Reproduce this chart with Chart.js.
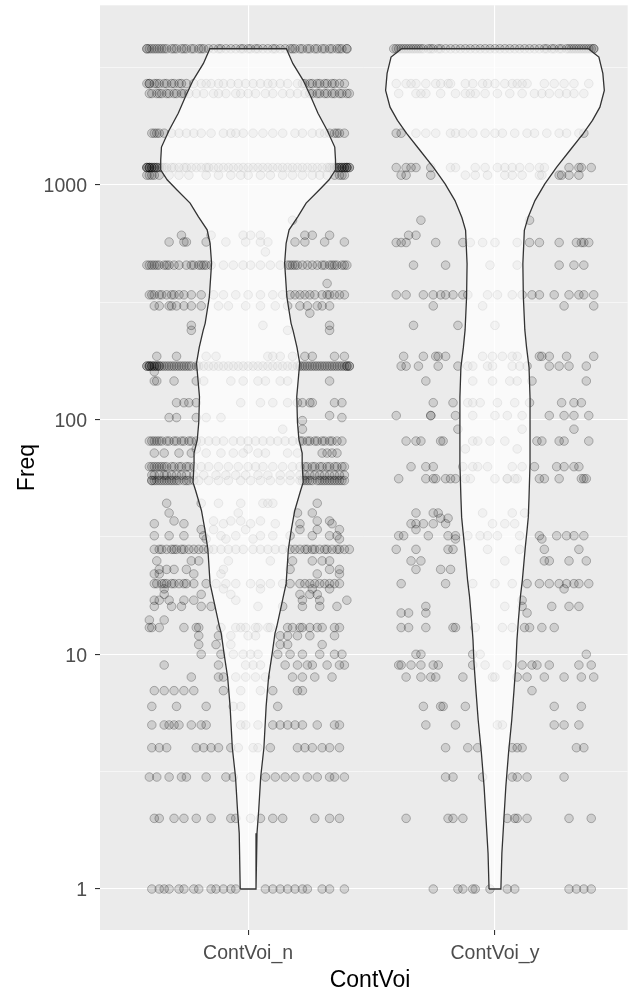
<!DOCTYPE html>
<html>
<head>
<meta charset="utf-8">
<script src="https://cdn.jsdelivr.net/npm/chart.js@4.4.0/dist/chart.umd.min.js"></script>
<style>
  html, body { margin: 0; padding: 0; background: #ffffff; overflow: hidden; }
  /* the original export cuts the panel at the right edge, so the canvas runs a few px past it */
  #wrap { width: 628px; height: 993px; overflow: hidden; }
</style>
</head>
<body>
<div id="wrap"><canvas id="violin-chart" width="633" height="993"></canvas></div>
<script>
const categories = ["ContVoi_n", "ContVoi_y"];
const yTicks = [1, 10, 100, 1000];

// ContVoi_n: one band per Freq value, jitter offsets in hundredths of a category
const nFreq = [3800, 2700, 2450, 1660, 1185, 1100, 707, 610, 571, 518, 455, 380, 340, 305, 284, 252, 240,
  186, 169, 160, 146, 118, 104, 102, 99, 91, 81, 75, 72, 63, 58, 55, 44, 40, 37, 36, 34, 32, 31, 28,
  25, 23, 22, 20, 19, 18, 17, 16, 14, 13, 12, 11, 10, 9, 8, 7, 6, 5, 4, 3, 2, 1];
const nJitter = [
  "-41 -41 -40 -39 -38 -37 -36 -35 -34 -33 -31 -30 -29 -27 -26 -25 -23 -22 -20 -19 -18 -16 -14 -12 -11 -9 -7 -5 -3 -2 0 1 3 4 6 8 10 11 13 15 17 18 19 21 22 24 25 27 28 30 31 33 34 36 37 38 40 40",
  "-41 -40 -40 -38 -37 -36 -34 -33 -31 -30 -28 -27 -25 -22 -19 -17 -15 -12 -10 -7 -4 -1 2 5 8 10 13 16 20 22 23 25 26 28 29 31 32 34 35 37 39",
  "-40 -39 -37 -36 -35 -33 -32 -30 -29 -27 -26 -24 -21 -18 -14 -12 -9 -5 -3 0 3 7 10 14 17 20 23 25 26 28 29 31 32 34 35 37 38 40 41",
  "-39 -38 -37 -36 -34 -31 -28 -25 -22 -19 -15 -10 -7 -5 -2 2 6 10 14 19 22 26 29 31 33 35 36 37 39",
  "-41 -41 -41 -40 -40 -40 -39 -39 -38 -38 -37 -37 -36 -35 -34 -33 -31 -30 -28 -26 -25 -23 -21 -19 -17 -16 -14 -12 -10 -8 -6 -4 -2 0 2 4 6 8 10 12 14 16 18 20 22 24 26 28 30 32 33 34 35 36 36 37 37 38 38 39 39 40 40 40 41 41",
  "-41 -40 -39 -38 -36 -32 -28 -24 -17 -12 -7 -3 0 5 9 14 18 22 26 29 32 35 37 38 39",
  "18",
  "-27 -15 -2 1 5 23 26 33",
  "-32 -26 -25 -17 -9 -1 5 8 19 23 31 39",
  "7",
  "-41 -40 -39 -38 -37 -36 -34 -33 -32 -30 -28 -25 -23 -22 -20 -19 -18 -17 -15 -10 -6 -2 1 5 9 13 16 17 18 19 20 22 24 26 28 30 31 33 34 35 36 38 39 40",
  "32",
  "-40 -39 -38 -36 -35 -33 -31 -30 -28 -26 -23 -19 -14 -10 -5 0 5 10 14 17 19 21 23 25 27 30 32 33 35 37 39",
  "-38 -36 -32 -31 -29 -26 -23 -19 -12 -8 -1 5 11 16 21 24 28 30 33",
  "25",
  "-23 6 33",
  "-23 16 33",
  "-37 -29 -17 -13 8 10 13 18 23 26 35 39",
  "-41 -41 -40 -40 -40 -39 -39 -38 -38 -37 -37 -36 -36 -35 -34 -33 -32 -31 -30 -29 -28 -27 -26 -25 -24 -23 -21 -20 -18 -16 -14 -12 -10 -8 -6 -4 -2 0 2 4 6 8 10 12 14 16 18 20 21 22 23 24 25 26 27 28 29 30 31 32 33 34 35 36 37 38 39 40 40 41 41",
  "-38",
  "-38 -37 -30 -21 -18 -7 -2 4 7 13 16 33",
  "-29 -26 -24 -21 -3 5 10 16 20 22 25 26 35 38",
  "33",
  "-32 -29 -21 -17 -11 38",
  "22",
  "14 22",
  "-40 -39 -38 -37 -36 -35 -33 -32 -30 -29 -27 -26 -24 -23 -21 -19 -16 -13 -10 -6 -3 0 3 6 9 12 15 18 21 22 24 25 27 28 30 31 33 34 36 38",
  "-21 0",
  "-38 -34 -28 -23 -17 -11 -6 -2 4 7 16 20 30 32 34 36",
  "-40 -39 -38 -37 -36 -35 -34 -33 -31 -30 -28 -27 -25 -24 -22 -19 -16 -12 -8 -4 0 3 6 10 14 18 21 23 24 26 27 29 30 32 33 35 36 38 39",
  "-39 -38 -36 -34 -33 -31 -29 -27 -25 -22 -18 -13 -9 -5 -1 4 8 13 17 21 23 25 27 29 31 33 35 37 39",
  "-39 -39 -38 -37 -36 -35 -34 -33 -32 -31 -30 -29 -28 -26 -25 -24 -22 -20 -16 -12 -8 -3 1 5 9 13 17 21 22 23 24 25 26 28 29 30 31 32 33 34 35 36 37 38 39",
  "-33 -19 -12 -3 6 8 10 28",
  "-32 -4 20 26",
  "-30 -14 -7 -3 5 28 33",
  "-38 -26 -10 1 11 21 34",
  "-19 -14 -1 21 28 37",
  "-38 -32 -26 -18 -11 -5 5 10 17 26 33 36",
  "-17 -9 2 37",
  "-38 -36 -35 -33 -31 -30 -29 -27 -26 -24 -22 -20 -18 -16 -14 -11 -8 -5 -2 2 5 8 11 14 17 19 21 23 24 26 27 29 31 32 34 36 37 39 41",
  "-37 -23 -20 -8 9 18 26 30 33",
  "-36 -33 -30 -25 -10 17 33 37",
  "-38 -36 -22 -11 28 37",
  "-38 -37 -35 -34 -33 -31 -30 -28 -26 -25 -22 -17 -13 -9 -5 1 5 9 14 17 21 23 25 27 29 31 33 35 37",
  "-34 -10 5 26 33",
  "-34 -19 -7 21 25 28",
  "-38 -36 -32 -26 -22 -5 22 29 40",
  "-38 -31 -27 -19 -15 4 14 22 29 36",
  "-40 -34",
  "-40 -39 -36 -26 -21 -20 -11 -5 -3 -1 3 4 8 9 16 18 21 22 25 28 30 35 37",
  "-20 -12 -7 0 3 13 16 20 25 35",
  "-20 -13 -7 13 16 30",
  "-19 -11 -6 -2 1 4 12 17 22 29 35 38",
  "-34 -12 -1 2 5 15 20 24 26 32 37 39",
  "-23 -12 -10 -5 -1 3 7 18 22 27 34",
  "-38 -34 -30 -26 -22 -10 -3 5 10 20 22",
  "-39 -29 -17 -6 -3 12",
  "-39 -34 -32 -30 -28 -23 -19 -17 -3 -1 4 10 13 16 19 22 28 35 37",
  "-39 -36 -33 -21 -18 -15 -12 -7 -4 2 4 9 20 23 26 30 33 37",
  "-40 -37 -32 -27 -25 -17 -9 -6 1 7 11 15 19 24 28 33 35 39",
  "-38 -36 -30 -26 -21 -15 -7 -5 1 5 10 14 27 33 37",
  "-39 -36 -34 -32 -28 -26 -22 -20 -15 -13 -10 -7 -5 7 10 13 16 19 22 24 30 33 39"
];

// ContVoi_y
const yFreq = [3800, 2700, 2450, 1660, 1185, 1100, 707, 610, 568, 455, 340, 305, 252, 186, 169, 146, 118,
  104, 91, 81, 75, 63, 56, 40, 38, 36, 34, 32, 31, 28, 25, 23, 20, 19, 17, 16, 15, 13, 10, 9, 8, 7, 6,
  5, 4, 3, 2, 1];
const yJitter = [
  "-41 -40 -39 -38 -37 -36 -35 -34 -33 -32 -31 -30 -29 -27 -26 -25 -23 -22 -20 -18 -16 -14 -12 -10 -8 -6 -4 -2 0 2 4 6 8 10 12 14 16 18 20 21 23 24 26 27 29 30 31 32 33 34 35 36 37 38 39 40 40",
  "-40 -36 -34 -32 -28 -24 -22 -19 -18 -12 -9 -5 -3 0 4 7 9 11 13 20 24 28 32 38",
  "-39 -32 -30 -28 -22 -16 -12 -10 -8 -4 1 6 11 16 19 22 26 29 32 36",
  "-40 -38 -32 -28 -24 -18 -16 -13 -9 -4 0 3 8 13 16 21 26 29 34 36",
  "-40 -36 -34 -32 -26 -18 -16 -8 -4 1 4 7 10 14 18 20 30 34 35 39",
  "-38 -36 -26 -12 -8 -3 4 7 11 18 19 26 27 30 34",
  "-30 14",
  "-35 -32",
  "-40 -38 -36 -24 -13 -10 -5 0 9 14 18 26 33 35 36 38",
  "-33 -20 -2 9 26 32 36",
  "-40 -36 -29 -25 -22 -20 -17 -13 -11 -3 1 7 11 15 18 24 30 34 36 40",
  "-25 -5 28 40",
  "-33 -15 0",
  "-37 -29 -24 -23 -20 -5 -1 3 7 9 18 19 22 29 40",
  "-38 -36 -31 -23 -15 -11 -9 -3 -1 7 10 13 22 26 30 37",
  "-28 -9 -1 6 9 15 37",
  "-25 -17 -11 -9 -6 1 8 14 27 32 35",
  "-40 -26 -26 -16 -9 0 5 11 22 28 32 38",
  "-15 11 32",
  "-36 -32 -30 -22 -21 -9 -7 -2 4 17 19 26 28 38",
  "-12 9",
  "-34 -28 -25 -13 -9 -7 -3 7 11 16 25 28 32 34",
  "-39 -28 -25 -24 -20 -18 -16 -12 -10 0 5 5 8 9 18 20 26 35 36 37",
  "-32 -25 -23 -5 7 12",
  "-22 -19",
  "-34 -32 -29 -25 -20 -1 4 8",
  "-32",
  "-39 -37 -27 -19 -16 -11 -6 -3 1 10 18 25 29 32 36",
  "-16 19",
  "-40 -32 -19 -17 -3 10 20 34",
  "-34 -30 4 20 22 30 37",
  "-32 -22 -18",
  "-38 -20 -9 0 7 13 18 22 26 29 32 34 38",
  "28",
  "11",
  "-28 4 11 23 30 34",
  "-38 -35 -28 13",
  "-38 -35 -28 -17 -16 -8 3 7 12 14 19 24",
  "-32 -30 -9 -6 37",
  "-39 -38 -34 -30 -25 -23 -9 -4 5 11 15 17 22 34 39",
  "-36 -30 -26 -24 -13 -1 0 9 13 20 28 35 40",
  "15",
  "-29 -22 -21 -12 24 35",
  "-28 -16 1 3 24 28 34",
  "-20 -11 -7 7 9 11 33 36",
  "-20 -17 -5 7 9 13 28",
  "-36 -19 -17 -13 5 8 9 13 30 39",
  "-25 -15 -13 -9 -8 -2 5 8 30 33 36 39"
];

// violin outlines: Freq levels and half widths (category units)
const nViolinFreq = [1, 1.73, 2.17, 3, 4, 6, 8, 10, 12.3, 13.1, 20, 28, 34, 41, 50, 54, 65, 72, 82, 97, 125,
  174, 203, 240, 257, 333, 464, 564, 643, 731, 836, 953, 1051, 1158, 1276, 1449, 1710, 2018, 2360, 2788, 3290, 3800];
const nViolinHalf = [0.032, 0.036, 0.043, 0.051, 0.064, 0.073, 0.083, 0.097, 0.109, 0.116, 0.154, 0.163, 0.175,
  0.189, 0.213, 0.223, 0.219, 0.219, 0.206, 0.200, 0.197, 0.209, 0.198, 0.182, 0.174, 0.157, 0.148, 0.154,
  0.166, 0.201, 0.235, 0.289, 0.328, 0.354, 0.354, 0.351, 0.320, 0.283, 0.255, 0.223, 0.181, 0.155];
const yViolinFreq = [1, 1.42, 1.97, 2.73, 3.8, 5.25, 7, 9.2, 11.5, 14, 17.6, 20.7, 24.4, 28.7, 33.8, 38.4, 46.7,
  65, 90, 124.5, 167, 203, 241, 333, 461, 640, 726, 857, 1010, 1189, 1404, 1657, 1884, 2143, 2528, 2985, 3505, 3800];
const yViolinHalf = [0.024, 0.028, 0.036, 0.044, 0.055, 0.068, 0.077, 0.085, 0.089, 0.095, 0.103, 0.111, 0.117,
  0.123, 0.130, 0.135, 0.138, 0.142, 0.142, 0.142, 0.138, 0.128, 0.121, 0.115, 0.113, 0.119, 0.134, 0.162,
  0.202, 0.250, 0.304, 0.358, 0.395, 0.425, 0.443, 0.437, 0.421, 0.378];

const FONT = "'Liberation Sans', Arial, sans-serif";

function jitterPoints(center, freqs, jitters) {
  const pts = [];
  freqs.forEach((f, i) => {
    jitters[i].split(" ").forEach(j => pts.push({ x: center + Number(j) / 100, y: f }));
  });
  return pts;
}

function violinOutline(center, freqs, halves) {
  const left = freqs.map((f, i) => ({ x: center - halves[i], y: f }));
  const right = freqs.map((f, i) => ({ x: center + halves[i], y: f })).reverse();
  return left.concat(right, [left[0]]);
}

const pointStyle = {
  pointRadius: 4.3,
  pointBorderWidth: 1,
  backgroundColor: "rgba(0,0,0,0.12)",
  borderColor: "rgba(0,0,0,0.25)",
  order: 1,
};
const violinStyle = {
  type: "line",
  showLine: true,
  pointRadius: 0,
  tension: 0,
  borderWidth: 1.3,
  borderColor: "#333333",
  backgroundColor: "rgba(255,255,255,0.72)",
  fill: "shape",
  order: 0,
};

// grey panel behind the grid
const panelBg = {
  id: "panelBg",
  beforeDraw(chart) {
    const { ctx, chartArea: a } = chart;
    ctx.save();
    ctx.fillStyle = "#ffffff";
    ctx.fillRect(0, 0, chart.width, chart.height);
    ctx.fillStyle = "#EBEBEB";
    ctx.fillRect(a.left, a.top, a.right - a.left, a.bottom - a.top);
    ctx.restore();
  },
};

// axis titles, placed like ggplot
const axisTitles = {
  id: "axisTitles",
  afterDraw(chart) {
    const { ctx } = chart;
    ctx.save();
    ctx.fillStyle = "#000000";
    ctx.font = "23px " + FONT;
    ctx.textAlign = "center";
    ctx.textBaseline = "alphabetic";
    ctx.fillText("ContVoi", 370, 987);
    ctx.translate(34, 467.5);
    ctx.rotate(-Math.PI / 2);
    ctx.fillText("Freq", 0, 0);
    ctx.restore();
  },
};

const minorTicks = yTicks.map(v => v * Math.sqrt(10));

new Chart(document.getElementById("violin-chart").getContext("2d"), {
  type: "scatter",
  data: {
    datasets: [
      { ...violinStyle, label: "violin n", data: violinOutline(1, nViolinFreq, nViolinHalf) },
      { ...violinStyle, label: "violin y", data: violinOutline(2, yViolinFreq, yViolinHalf) },
      { ...pointStyle, label: categories[0], data: jitterPoints(1, nFreq, nJitter) },
      { ...pointStyle, label: categories[1], data: jitterPoints(2, yFreq, yJitter) },
    ],
  },
  options: {
    responsive: false,
    animation: false,
    devicePixelRatio: 1,
    events: [],
    layout: { padding: { top: 5, right: 0, bottom: 0, left: 0 } },
    plugins: { legend: { display: false }, tooltip: { enabled: false } },
    scales: {
      x: {
        type: "linear",
        bounds: "data",
        min: 0.4,
        max: 2.5377,
        afterBuildTicks: axis => { axis.ticks = categories.map((c, i) => ({ value: i + 1 })); },
        afterFit: axis => {
          axis.height = 63;
          axis.paddingLeft = 0;
          axis.paddingRight = 0;
        },
        ticks: {
          callback: v => categories[Math.round(v) - 1],
          color: "#4D4D4D",
          font: { family: FONT, size: 19.5 },
          padding: 6.5,
          autoSkip: false,
          maxRotation: 0,
        },
        grid: { color: "#ffffff", lineWidth: 1.1, tickColor: "#333333", tickLength: 5, tickWidth: 1.1 },
        border: { display: false },
      },
      y: {
        type: "logarithmic",
        bounds: "data",
        min: 0.669,
        max: 5821,
        afterBuildTicks: axis => {
          axis.ticks = yTicks.concat(minorTicks).sort((a, b) => a - b).map(v => ({ value: v }));
        },
        afterFit: axis => {
          axis.width = 100;
          axis.paddingTop = 0;
          axis.paddingBottom = 0;
        },
        ticks: {
          callback: v => (yTicks.includes(v) ? String(v) : ""),
          color: "#4D4D4D",
          font: { family: FONT, size: 19.5 },
          padding: 8,
          labelOffset: 2,
          autoSkip: false,
        },
        grid: {
          color: "#ffffff",
          lineWidth: c => (c.tick && yTicks.includes(c.tick.value) ? 1.1 : 0.55),
          tickColor: c => (c.tick && yTicks.includes(c.tick.value) ? "#333333" : "rgba(0,0,0,0)"),
          tickLength: 5,
          tickWidth: 1.1,
        },
        border: { display: false },
      },
    },
  },
  plugins: [panelBg, axisTitles],
});
</script>
</body>
</html>
